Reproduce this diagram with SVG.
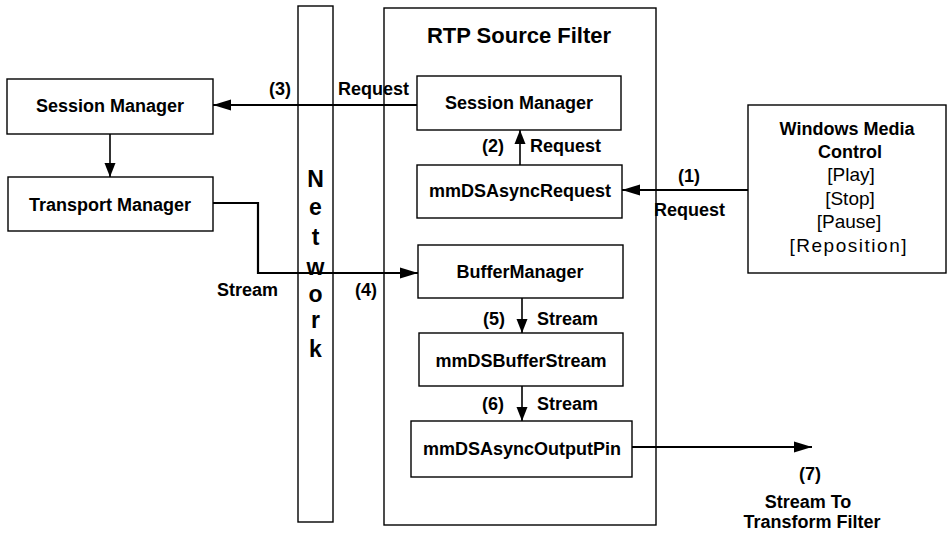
<svg xmlns="http://www.w3.org/2000/svg" width="947" height="536" viewBox="0 0 947 536">
<style>
.box{fill:none;stroke:#000;stroke-width:1.4}
.t{font-family:"Liberation Sans",Arial,sans-serif;font-weight:bold;font-size:18px;fill:#000}
.c{text-anchor:middle}
.n{font-weight:normal;font-size:19px}
.ln{fill:none;stroke:#000;stroke-width:2.2}
.lt{fill:none;stroke:#000;stroke-width:1.6}
</style>
<defs>
<marker id="ah" markerUnits="userSpaceOnUse" markerWidth="19" markerHeight="12" refX="18" refY="6" orient="auto"><path d="M0,0.5 L18,6 L0,11.5 z" fill="#000"/></marker>
<marker id="ahs" markerUnits="userSpaceOnUse" markerWidth="15" markerHeight="12" refX="14" refY="6" orient="auto"><path d="M0,0.5 L14,6 L0,11.5 z" fill="#000"/></marker>
</defs>
<rect x="0" y="0" width="947" height="536" fill="#fff"/>

<g id="network">
<rect class="box" x="298" y="6" width="35" height="516"/>
<g style="font-size:23px">
<text class="t c" style="font-size:23px" x="315.5" y="187">N</text>
<text class="t c" style="font-size:23px" x="315.5" y="215">e</text>
<text class="t c" style="font-size:23px" x="315.5" y="245">t</text>
<text class="t c" style="font-size:23px" x="315.5" y="275">w</text>
<text class="t c" style="font-size:23px" x="315.5" y="302">o</text>
<text class="t c" style="font-size:23px" x="315.5" y="328">r</text>
<text class="t c" style="font-size:23px" x="315.5" y="357">k</text>
</g>
</g>

<g id="rtp-source-filter">
<rect class="box" x="384" y="8" width="272" height="517"/>
<text class="t c" x="519" y="43" style="font-size:22px">RTP Source Filter</text>
</g>

<g id="session-manager-left">
<rect class="box" x="7" y="79" width="206" height="55"/>
<text class="t c" x="110" y="112">Session Manager</text>
</g>

<g id="transport-manager">
<rect class="box" x="8" y="177" width="205" height="54"/>
<text class="t c" x="110" y="211">Transport Manager</text>
</g>

<g id="session-manager-inner">
<rect class="box" x="417" y="76" width="204" height="54"/>
<text class="t c" x="519" y="109">Session Manager</text>
</g>

<g id="mmDSAsyncRequest">
<rect class="box" x="417" y="165" width="205" height="53"/>
<text class="t c" x="520" y="197">mmDSAsyncRequest</text>
</g>

<g id="buffer-manager">
<rect class="box" x="418" y="245" width="205" height="53"/>
<text class="t c" x="520" y="278">BufferManager</text>
</g>

<g id="mmDSBufferStream">
<rect class="box" x="419" y="333" width="204" height="53"/>
<text class="t c" x="521" y="367">mmDSBufferStream</text>
</g>

<g id="mmDSAsyncOutputPin">
<rect class="box" x="411" y="421" width="221" height="56"/>
<text class="t c" x="522" y="455">mmDSAsyncOutputPin</text>
</g>

<g id="windows-media-control">
<rect class="box" x="748" y="105" width="198" height="168"/>
<text class="t c" x="847" y="135">Windows Media</text>
<text class="t c" x="850" y="158">Control</text>
<text class="t c n" x="851" y="181">[Play]</text>
<text class="t c n" x="850" y="205">[Stop]</text>
<text class="t c n" x="849" y="228">[Pause]</text>
<text class="t c n" x="848" y="252" textLength="117" lengthAdjust="spacing">[Reposition]</text>
</g>

<g id="connectors">
<line class="ln" x1="417" y1="105" x2="213" y2="105" marker-end="url(#ah)"/>
<line class="lt" x1="110" y1="134" x2="110" y2="177" marker-end="url(#ahs)"/>
<path class="ln" d="M213,203 H258 V273 H418" marker-end="url(#ah)"/>
<line class="ln" x1="748" y1="190" x2="622" y2="190" marker-end="url(#ah)"/>
<line class="lt" x1="520" y1="165" x2="520" y2="130" marker-end="url(#ahs)"/>
<line class="lt" x1="522" y1="298" x2="522" y2="333" marker-end="url(#ahs)"/>
<line class="lt" x1="522" y1="386" x2="522" y2="421" marker-end="url(#ahs)"/>
<line class="ln" x1="632" y1="447" x2="812" y2="447" marker-end="url(#ah)"/>
</g>

<g id="labels">
<text class="t" x="269" y="95">(3)</text>
<text class="t" x="338" y="95">Request</text>
<text class="t" x="482" y="152">(2)</text>
<text class="t" x="530" y="152">Request</text>
<text class="t" x="678" y="182">(1)</text>
<text class="t" x="654" y="216">Request</text>
<text class="t" x="217" y="296">Stream</text>
<text class="t" x="355" y="296">(4)</text>
<text class="t" x="483" y="325">(5)</text>
<text class="t" x="537" y="325">Stream</text>
<text class="t" x="482" y="410">(6)</text>
<text class="t" x="537" y="410">Stream</text>
<text class="t c" x="810" y="480">(7)</text>
<text class="t c" x="808" y="508">Stream To</text>
<text class="t c" x="812" y="528">Transform Filter</text>
</g>
</svg>
